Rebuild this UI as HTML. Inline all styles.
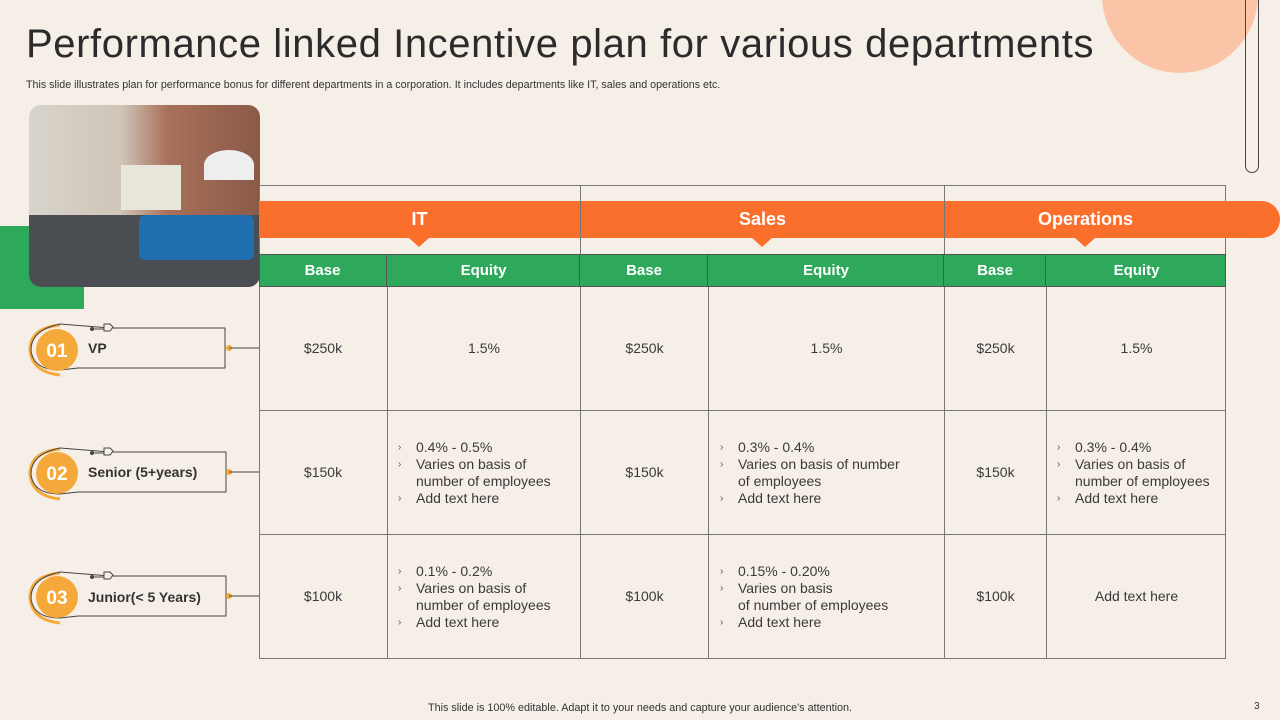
<!DOCTYPE html>
<html><head><meta charset="utf-8"><style>
*{margin:0;padding:0;box-sizing:border-box}
body{width:1280px;height:720px;overflow:hidden;background:#f6efe7;font-family:"Liberation Sans",sans-serif;position:relative;color:#333}
.a{position:absolute}
.cell{position:absolute;display:flex;align-items:center;justify-content:center;font-size:14px;color:#3a3a3a;text-align:center;line-height:17px}
.bl{text-align:left;justify-content:flex-start}
.bl ul{list-style:none}
.bl li{position:relative;padding-left:18px}
.bl li:before{content:"›";position:absolute;left:0;font-size:10px;color:#555}
.hd{color:#fff;font-weight:bold;font-size:15px}
.oh{color:#fff;font-weight:bold;font-size:18px}
</style></head><body>
<div class="a" style="left:1102px;top:-83px;width:156px;height:156px;border-radius:50%;background:#fbc4a6"></div>
<div class="a" style="left:1245px;top:-10px;width:14px;height:183px;border:1px solid #444;border-radius:0 0 7px 7px"></div>
<div class="a" style="left:26px;top:22px;font-size:40px;letter-spacing:0.6px;color:#2b2b2b;white-space:nowrap">Performance linked Incentive plan for various departments</div>
<div class="a" style="left:26px;top:79px;font-size:10.7px;color:#333;white-space:nowrap">This slide illustrates plan for performance bonus for different departments in a corporation. It includes departments like IT, sales and operations etc.</div>
<div class="a" style="left:0;top:226px;width:84px;height:83px;background:#2ea85a"></div>
<div class="a" style="left:29px;top:105px;width:231px;height:182px;border-radius:12px;overflow:hidden;background:linear-gradient(90deg,#d8d4cc 0%,#cfc5b8 40%,#a8705a 60%,#8a5a48 100%)">
 <div class="a" style="left:0;top:110px;width:231px;height:72px;background:#4a4e52"></div>
 <div class="a" style="left:92px;top:60px;width:60px;height:45px;background:#e8e6da"></div>
 <div class="a" style="left:110px;top:110px;width:115px;height:45px;background:#1f6fb0;border-radius:6px"></div>
 <div class="a" style="left:175px;top:45px;width:50px;height:30px;border-radius:50% 50% 0 0;background:#eee"></div>
</div>
<div class="a" style="left:259px;top:185px;width:967px;height:474px;border:1px solid #777"></div>
<div class="a" style="left:580px;top:185px;width:1px;height:474px;background:#777"></div>
<div class="a" style="left:944px;top:185px;width:1px;height:474px;background:#777"></div>
<div class="a" style="left:387px;top:254px;width:1px;height:405px;background:#777"></div>
<div class="a" style="left:708px;top:254px;width:1px;height:405px;background:#777"></div>
<div class="a" style="left:1046px;top:254px;width:1px;height:405px;background:#777"></div>
<div class="a" style="left:259px;top:410px;width:967px;height:1px;background:#777"></div>
<div class="a" style="left:259px;top:534px;width:967px;height:1px;background:#777"></div>
<div class="a" style="left:259px;top:201px;width:1021px;height:37px;background:#fb6f2d;border-radius:0 19px 19px 0"></div>
<div class="a" style="left:580px;top:201px;width:1px;height:37px;background:#777"></div>
<div class="a" style="left:944px;top:201px;width:1px;height:37px;background:#777"></div>
<div class="a" style="left:409px;top:238px;border-left:10px solid transparent;border-right:10px solid transparent;border-top:9px solid #fb6f2d"></div>
<div class="a" style="left:752px;top:238px;border-left:10px solid transparent;border-right:10px solid transparent;border-top:9px solid #fb6f2d"></div>
<div class="a" style="left:1075px;top:238px;border-left:10px solid transparent;border-right:10px solid transparent;border-top:9px solid #fb6f2d"></div>
<div class="cell oh" style="left:259px;top:201px;width:321px;height:37px">IT</div>
<div class="cell oh" style="left:581px;top:201px;width:363px;height:37px">Sales</div>
<div class="cell oh" style="left:945px;top:201px;width:281px;height:37px">Operations</div>
<div class="a" style="left:259px;top:254px;width:967px;height:33px;background:#2ea85a;border:1px solid #555"></div>
<div class="cell hd" style="left:259px;top:254px;width:128px;height:33px;border-right:1px solid #555">Base</div>
<div class="cell hd" style="left:388px;top:254px;width:192px;height:33px;border-right:1px solid #555">Equity</div>
<div class="cell hd" style="left:581px;top:254px;width:127px;height:33px;border-right:1px solid #555">Base</div>
<div class="cell hd" style="left:709px;top:254px;width:235px;height:33px;border-right:1px solid #555">Equity</div>
<div class="cell hd" style="left:945px;top:254px;width:101px;height:33px;border-right:1px solid #555">Base</div>
<div class="cell hd" style="left:1047px;top:254px;width:179px;height:33px">Equity</div>
<div class="cell" style="left:259px;top:287px;width:128px;height:123px">$250k</div>
<div class="cell" style="left:388px;top:287px;width:192px;height:123px">1.5%</div>
<div class="cell" style="left:581px;top:287px;width:127px;height:123px">$250k</div>
<div class="cell" style="left:709px;top:287px;width:235px;height:123px">1.5%</div>
<div class="cell" style="left:945px;top:287px;width:101px;height:123px">$250k</div>
<div class="cell" style="left:1047px;top:287px;width:179px;height:123px">1.5%</div>
<div class="cell" style="left:259px;top:411px;width:128px;height:123px">$150k</div>
<div class="cell bl" style="left:398px;top:411px;width:182px;height:123px"><ul><li>0.4% - 0.5%</li><li>Varies on basis of<br>number of employees</li><li>Add text here</li></ul></div>
<div class="cell" style="left:581px;top:411px;width:127px;height:123px">$150k</div>
<div class="cell bl" style="left:720px;top:411px;width:224px;height:123px"><ul><li>0.3% - 0.4%</li><li>Varies on basis of number<br>of employees</li><li>Add text here</li></ul></div>
<div class="cell" style="left:945px;top:411px;width:101px;height:123px">$150k</div>
<div class="cell bl" style="left:1057px;top:411px;width:169px;height:123px"><ul><li>0.3% - 0.4%</li><li>Varies on basis of<br>number of employees</li><li>Add text here</li></ul></div>
<div class="cell" style="left:259px;top:535px;width:128px;height:123px">$100k</div>
<div class="cell bl" style="left:398px;top:535px;width:182px;height:123px"><ul><li>0.1% - 0.2%</li><li>Varies on basis of<br>number of employees</li><li>Add text here</li></ul></div>
<div class="cell" style="left:581px;top:535px;width:127px;height:123px">$100k</div>
<div class="cell bl" style="left:720px;top:535px;width:224px;height:123px"><ul><li>0.15% - 0.20%</li><li>Varies on basis<br>of number of employees</li><li>Add text here</li></ul></div>
<div class="cell" style="left:945px;top:535px;width:101px;height:123px">$100k</div>
<div class="cell" style="left:1047px;top:535px;width:179px;height:123px">Add text here</div>
<svg class="a" style="left:0;top:300px" width="260" height="340">
 <g transform="translate(0,0)">
  <path d="M60,25 Q30,28 30,50 Q32,72 60,75" fill="none" stroke="#f6a93b" stroke-width="3"/>
  <path d="M110,28 L60,24 Q31,30 31,50 Q33,70 60,70 L78,68 L225,68 L225,28 L112,28" fill="none" stroke="#444" stroke-width="1"/>
  <circle cx="92" cy="29" r="2" fill="#444"/><line x1="92" y1="29" x2="104" y2="29" stroke="#444"/>
  <path d="M104,24 L110,24 L113,27 L110,31 L104,31 Z" fill="#f6efe7" stroke="#444"/>
  <circle cx="57" cy="50" r="21" fill="#f6a93b"/>
  <text x="57" y="57" text-anchor="middle" fill="#fff" font-size="19" font-weight="bold">01</text>
  <text x="88" y="53" fill="#333" font-size="14" font-weight="bold">VP</text>
  <circle cx="229" cy="48" r="3" fill="#f6a93b"/><line x1="229" y1="48" x2="259" y2="48" stroke="#444"/>
 </g>
 <g transform="translate(0,124)">
  <path d="M60,25 Q30,28 30,50 Q32,72 60,75" fill="none" stroke="#f6a93b" stroke-width="3"/>
  <path d="M110,28 L60,24 Q31,30 31,50 Q33,70 60,70 L78,68 L226,68 L226,28 L112,28" fill="none" stroke="#444" stroke-width="1"/>
  <circle cx="92" cy="29" r="2" fill="#444"/><line x1="92" y1="29" x2="104" y2="29" stroke="#444"/>
  <path d="M104,24 L110,24 L113,27 L110,31 L104,31 Z" fill="#f6efe7" stroke="#444"/>
  <circle cx="57" cy="49" r="21" fill="#f6a93b"/>
  <text x="57" y="56" text-anchor="middle" fill="#fff" font-size="19" font-weight="bold">02</text>
  <text x="88" y="53" fill="#333" font-size="14" font-weight="bold">Senior (5+years)</text>
  <circle cx="229" cy="48" r="3" fill="#f6a93b"/><line x1="229" y1="48" x2="259" y2="48" stroke="#444"/>
 </g>
 <g transform="translate(0,248)">
  <path d="M60,25 Q30,28 30,50 Q32,72 60,75" fill="none" stroke="#f6a93b" stroke-width="3"/>
  <path d="M110,28 L60,24 Q31,30 31,50 Q33,70 60,70 L78,68 L226,68 L226,28 L112,28" fill="none" stroke="#444" stroke-width="1"/>
  <circle cx="92" cy="29" r="2" fill="#444"/><line x1="92" y1="29" x2="104" y2="29" stroke="#444"/>
  <path d="M104,24 L110,24 L113,27 L110,31 L104,31 Z" fill="#f6efe7" stroke="#444"/>
  <circle cx="57" cy="49" r="21" fill="#f6a93b"/>
  <text x="57" y="56" text-anchor="middle" fill="#fff" font-size="19" font-weight="bold">03</text>
  <text x="88" y="54" fill="#333" font-size="14" font-weight="bold">Junior(&lt; 5 Years)</text>
  <circle cx="229" cy="48" r="3" fill="#f6a93b"/><line x1="229" y1="48" x2="259" y2="48" stroke="#444"/>
 </g>
</svg>
<div class="a" style="left:0;width:1280px;top:702px;text-align:center;font-size:10.8px;color:#333">This slide is 100% editable. Adapt it to your needs and capture your audience's attention.</div>
<div class="a" style="left:1254px;top:701px;font-size:10px;color:#333">3</div>
</body></html>
